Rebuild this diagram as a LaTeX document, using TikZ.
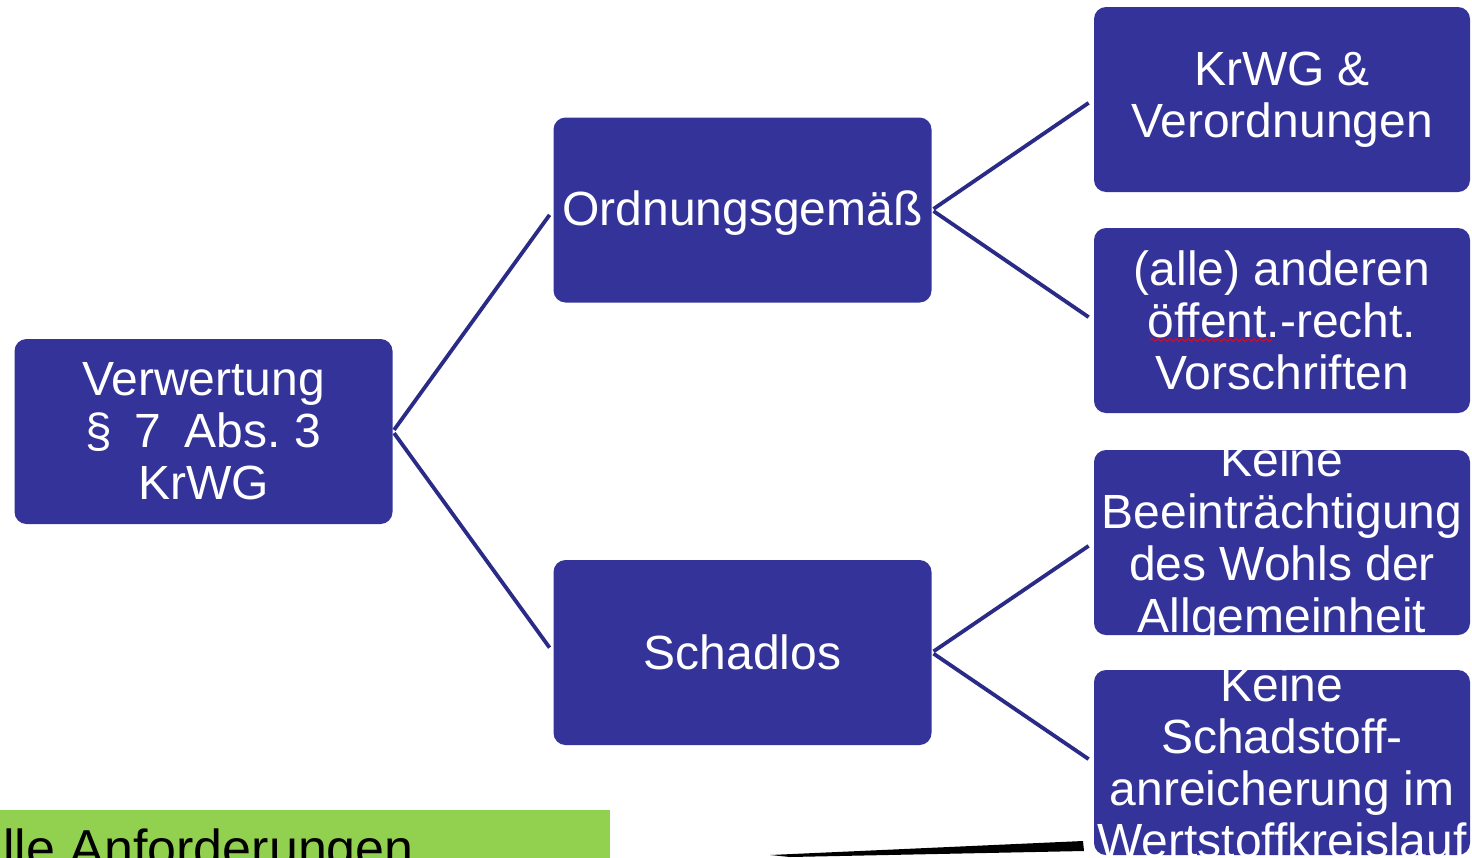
\documentclass[tikz,border=0pt]{standalone}
\usepackage{fontspec}
\setmainfont{Liberation Sans}
\usetikzlibrary{decorations.pathmorphing}
\definecolor{navy}{RGB}{51,51,153}
\definecolor{linkcol}{RGB}{42,42,135}
\definecolor{lime}{RGB}{146,208,80}
\begin{document}
\begin{tikzpicture}[x=0.5pt,y=-0.5pt,
  box/.style={rectangle, rounded corners=6pt, fill=navy, draw=none,
    minimum width=189pt, minimum height=92.5pt, inner sep=0pt},
  boxtext/.style={text=white, align=center, inner sep=0pt,
    font=\fontsize{24}{26}\selectfont},
  link/.style={linkcol, line width=1.9pt, shorten >=3pt, shorten <=1pt}]
\useasboundingbox (0,0) rectangle (1472,857);
\clip (0,0) rectangle (1472,857);
\fill[white] (0,0) rectangle (1472,857);

% boxes
\node[box] (v) at (203.5,431.5) {};
\node[box] (o) at (742.5,210) {};
\node[box] (s) at (742.5,652.5) {};
\node[box, minimum width=188pt] (k) at (1282,99.5) {};
\node[box, minimum width=188pt] (a) at (1282,320.5) {};
\node[box, minimum width=188pt] (b) at (1282,542.5) {};
\node[box, minimum width=188pt] (w) at (1282,762.5) {};

% texts
\node[boxtext] (vt) at (v.center) {Verwertung\\§\hspace{0.45em}7\hspace{0.5em}Abs.~3\\KrWG};
\node[boxtext] (ot) at ([yshift=-1.5pt]o.center) {Ordnungsgemäß};
\node[boxtext] (st) at (s.center) {Schadlos};
\node[boxtext] (kt) at (k.center) {KrWG \&\\Verordnungen};
\node[boxtext] (at) at (a.center) {(alle) anderen\\öffent.-recht.\\Vorschriften};
\node[boxtext] (bt) at (b.center) {Keine\\Beeinträchtigung\\des Wohls der\\Allgemeinheit};
\node[boxtext] (wt) at (w.center) {Keine\\Schadstoff-\\anreicherung im\\Wertstoffkreislauf};

% spell-check squiggle
\coordinate (sq1) at (1150,340);
\coordinate (sq2) at (1272,340);
\draw[red, line width=0.5pt, decorate,
  decoration={snake, amplitude=0.7pt, segment length=3pt}] (sq1) -- (sq2);

% connectors
\draw[link] (v.east) -- (o.west);
\draw[link] (v.east) -- (s.west);
\draw[link] (o.east) -- (k.west);
\draw[link] (o.east) -- (a.west);
\draw[link] (s.east) -- (b.west);
\draw[link] (s.east) -- (w.west);

% green bar
\fill[lime] (-10,810) rectangle (610,880);
\node[anchor=base west, inner sep=0pt, text=black,
  font=\fontsize{26}{30}\selectfont] (g) at (-26,866) {alle Anforderungen};

% black tapered line
\fill[black] (770,855) -- (1083,841) -- (1084,851) -- (790,857) -- cycle;
\end{tikzpicture}
\end{document}
